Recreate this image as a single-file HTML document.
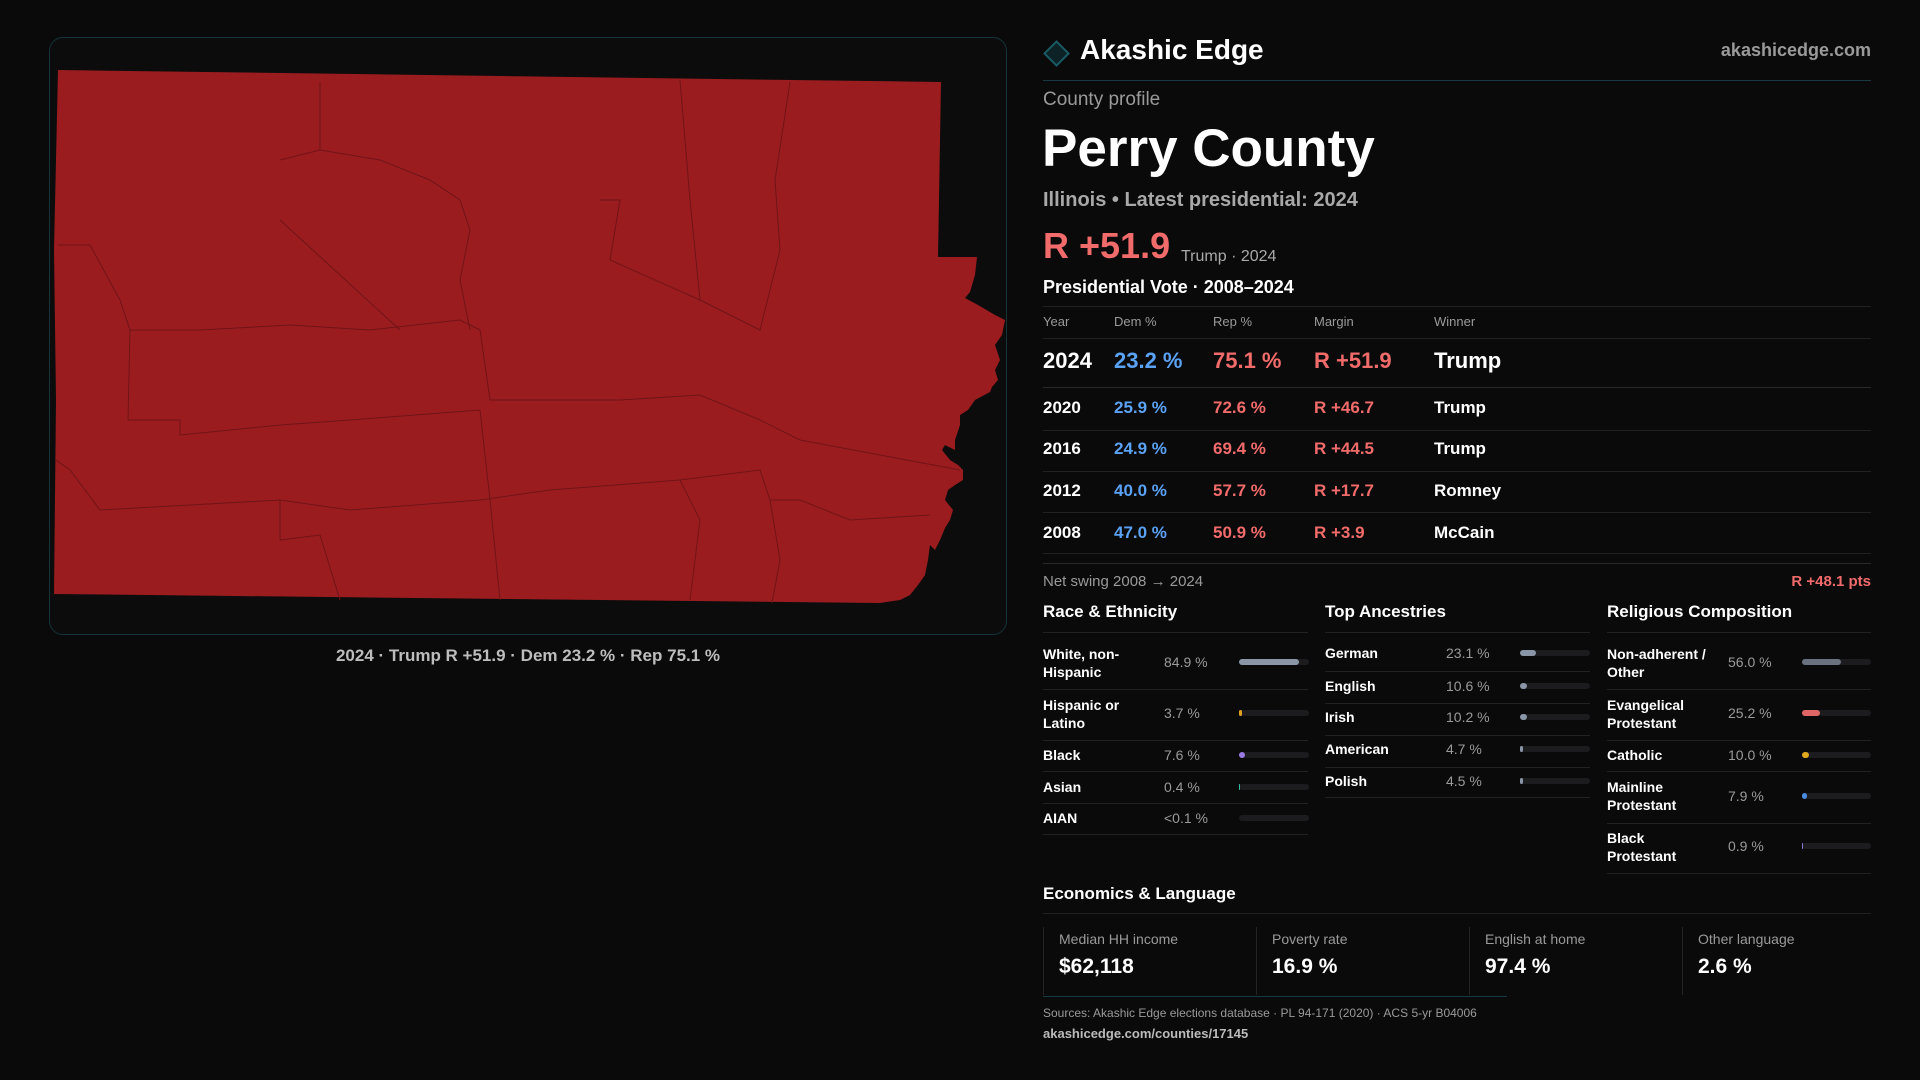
<!DOCTYPE html>
<html><head><meta charset="utf-8"><style>
*{margin:0;padding:0;box-sizing:border-box}
body{width:1920px;height:1080px;background:#0a0a0a;font-family:"Liberation Sans",sans-serif;color:#fff;position:relative;overflow:hidden}
.a{position:absolute;white-space:nowrap}
.g{color:#9a9a9a}
.ln{position:absolute;height:1px;background:#222}
.red{color:#f26b6b}.blue{color:#5aa2f5}
.bar{position:absolute;height:6px;border-radius:3px;background:#1c1c1f}
.bar i{position:absolute;left:0;top:0;height:6px;border-radius:3px}
.card{position:absolute;top:927px;height:68px;border-left:1px solid #242424;padding-left:15px}
.card .l{font-size:14px;color:#9a9a9a;margin-top:4px}
.card .v{font-size:21px;font-weight:bold;margin-top:8px}
</style></head><body>
<div style="position:absolute;left:49px;top:37px;width:958px;height:598px;border:1px solid #16343a;border-radius:14px;background:#0c0c0d"></div>
<svg class="a" style="left:0;top:0" width="1920" height="1080">
<polygon fill="#9b1c1f" points="58,70 941,82 938,257 977,257 975,275 970,292 965,298 978,305 995,315 1005,320 1002,335 995,345 1000,360 995,370 998,380 992,387 990,392 975,400 968,410 960,415 960,425 955,440 955,450 945,445 942,450 950,460 958,465 963,470 963,480 955,485 948,490 945,500 953,510 950,520 945,528 940,540 935,550 930,545 928,560 925,575 918,585 910,595 900,600 880,603 54,594 56,400 54,250"/>
<g fill="none" stroke="#701417" stroke-width="1">
<polyline points="58,245 90,245 120,300 130,330 200,330 290,325 370,330 460,320 480,330 490,400 620,400 700,395 760,420 800,440 960,470"/>
<polyline points="130,330 128,420 180,420 180,435 280,425 350,420 480,410"/>
<polyline points="56,460 70,470 100,510 190,505 280,500 350,510 480,500 550,490 680,480 760,470 770,500 800,500 850,520 930,515"/>
<polyline points="280,160 320,150 380,160 430,180 460,200 470,230 460,280 470,330"/>
<polyline points="280,500 280,540 320,535 340,600"/>
<polyline points="480,410 490,500 500,600"/>
<polyline points="680,480 700,520 690,600"/>
<polyline points="770,500 780,560 772,603"/>
<polyline points="320,82 320,150"/>
<polyline points="680,80 690,200 700,300 760,330 780,250 775,180 790,82"/>
<polyline points="600,200 620,200 610,260 700,300"/>
<polyline points="280,220 400,330"/>
</g>
</svg>
<div class="a" style="left:0;width:1056px;top:646px;text-align:center;font-size:17px;color:#bdbdbd;font-weight:bold">2024 · Trump R +51.9 · Dem 23.2 % · Rep 75.1 %</div>

<div class="a" style="left:1047px;top:44px;width:19px;height:19px;border:2px solid #1a5a63;background:#0d2226;transform:rotate(45deg)"></div>
<div class="a" style="left:1080px;top:34px;font-size:28px;font-weight:bold">Akashic Edge</div>
<div class="a g" style="right:49px;top:40px;font-size:18px;font-weight:bold">akashicedge.com</div>
<div class="ln" style="left:1043px;width:828px;top:80px;background:#173a40"></div>
<div class="a g" style="left:1043px;top:89px;font-size:19px">County profile</div>
<div class="a" style="left:1042px;top:118px;font-size:53px;font-weight:bold">Perry County</div>
<div class="a" style="left:1043px;top:189px;font-size:20px;color:#a8a8a8;font-weight:bold">Illinois • Latest presidential: 2024</div>
<div class="a red" style="left:1043px;top:225px;font-size:36px;font-weight:bold">R +51.9</div>
<div class="a" style="left:1181px;top:248px;font-size:16px;color:#aaa">Trump · 2024</div>
<div class="a" style="left:1043px;top:277px;font-size:18px;font-weight:bold">Presidential Vote · 2008–2024</div>
<div class="ln" style="left:1043px;width:828px;top:306px"></div>
<div class="a g" style="left:1043px;top:314px;font-size:13px">Year</div>
<div class="a g" style="left:1114px;top:314px;font-size:13px">Dem %</div>
<div class="a g" style="left:1213px;top:314px;font-size:13px">Rep %</div>
<div class="a g" style="left:1314px;top:314px;font-size:13px">Margin</div>
<div class="a g" style="left:1434px;top:314px;font-size:13px">Winner</div>
<div class="ln" style="left:1043px;width:828px;top:338px"></div>
<div class="a" style="left:1043px;top:348px;font-size:22px;font-weight:bold">2024</div><div class="a blue" style="left:1114px;top:348px;font-size:22px;font-weight:bold">23.2 %</div><div class="a red" style="left:1213px;top:348px;font-size:22px;font-weight:bold">75.1 %</div><div class="a red" style="left:1314px;top:348px;font-size:22px;font-weight:bold">R +51.9</div><div class="a" style="left:1434px;top:348px;font-size:22px;font-weight:bold">Trump</div>
<div class="ln" style="left:1043px;width:828px;top:387px;background:#2a2a2a"></div>
<div class="a" style="left:1043px;top:398px;font-size:17px;font-weight:bold">2020</div><div class="a blue" style="left:1114px;top:398px;font-size:17px;font-weight:bold">25.9 %</div><div class="a red" style="left:1213px;top:398px;font-size:17px;font-weight:bold">72.6 %</div><div class="a red" style="left:1314px;top:398px;font-size:17px;font-weight:bold">R +46.7</div><div class="a" style="left:1434px;top:398px;font-size:17px;font-weight:bold">Trump</div>
<div class="ln" style="left:1043px;width:828px;top:430px"></div>
<div class="a" style="left:1043px;top:439px;font-size:17px;font-weight:bold">2016</div><div class="a blue" style="left:1114px;top:439px;font-size:17px;font-weight:bold">24.9 %</div><div class="a red" style="left:1213px;top:439px;font-size:17px;font-weight:bold">69.4 %</div><div class="a red" style="left:1314px;top:439px;font-size:17px;font-weight:bold">R +44.5</div><div class="a" style="left:1434px;top:439px;font-size:17px;font-weight:bold">Trump</div>
<div class="ln" style="left:1043px;width:828px;top:471px"></div>
<div class="a" style="left:1043px;top:481px;font-size:17px;font-weight:bold">2012</div><div class="a blue" style="left:1114px;top:481px;font-size:17px;font-weight:bold">40.0 %</div><div class="a red" style="left:1213px;top:481px;font-size:17px;font-weight:bold">57.7 %</div><div class="a red" style="left:1314px;top:481px;font-size:17px;font-weight:bold">R +17.7</div><div class="a" style="left:1434px;top:481px;font-size:17px;font-weight:bold">Romney</div>
<div class="ln" style="left:1043px;width:828px;top:512px"></div>
<div class="a" style="left:1043px;top:523px;font-size:17px;font-weight:bold">2008</div><div class="a blue" style="left:1114px;top:523px;font-size:17px;font-weight:bold">47.0 %</div><div class="a red" style="left:1213px;top:523px;font-size:17px;font-weight:bold">50.9 %</div><div class="a red" style="left:1314px;top:523px;font-size:17px;font-weight:bold">R +3.9</div><div class="a" style="left:1434px;top:523px;font-size:17px;font-weight:bold">McCain</div>
<div class="ln" style="left:1043px;width:828px;top:553px"></div>
<div class="ln" style="left:1043px;width:828px;top:563px;background:#2a2a2a"></div>
<div class="a g" style="left:1043px;top:573px;font-size:15px">Net swing 2008 → 2024</div>
<div class="a red" style="right:49px;top:573px;font-size:15px;font-weight:bold">R +48.1 pts</div>

<div class="a" style="left:1043px;top:602px;font-size:17px;font-weight:bold">Race &amp; Ethnicity</div>
<div class="a" style="left:1325px;top:602px;font-size:17px;font-weight:bold">Top Ancestries</div>
<div class="a" style="left:1607px;top:602px;font-size:17px;font-weight:bold">Religious Composition</div>
<div class="ln" style="left:1043px;width:265px;top:632px"></div>
<div class="ln" style="left:1325px;width:265px;top:632px"></div>
<div class="ln" style="left:1607px;width:264px;top:632px"></div>

<div class="a" style="left:1043px;top:645px;font-size:14px;line-height:18px;font-weight:bold">White, non-<br>Hispanic</div><div class="a g" style="left:1164px;top:654px;font-size:14px">84.9 %</div><div class="bar" style="left:1239px;width:70px;top:659px"><i style="width:60px;background:#8a96a8"></i></div>
<div class="ln" style="left:1043px;width:265px;top:689px"></div>
<div class="a" style="left:1043px;top:696px;font-size:14px;line-height:18px;font-weight:bold">Hispanic or<br>Latino</div><div class="a g" style="left:1164px;top:705px;font-size:14px">3.7 %</div><div class="bar" style="left:1239px;width:70px;top:710px"><i style="width:3px;background:#e0a020"></i></div>
<div class="ln" style="left:1043px;width:265px;top:740px"></div>
<div class="a" style="left:1043px;top:747px;font-size:14px;font-weight:bold">Black</div><div class="a g" style="left:1164px;top:747px;font-size:14px">7.6 %</div><div class="bar" style="left:1239px;width:70px;top:752px"><i style="width:6px;background:#9a7ae0"></i></div>
<div class="ln" style="left:1043px;width:265px;top:771px"></div>
<div class="a" style="left:1043px;top:779px;font-size:14px;font-weight:bold">Asian</div><div class="a g" style="left:1164px;top:779px;font-size:14px">0.4 %</div><div class="bar" style="left:1239px;width:70px;top:784px"><i style="width:1px;background:#30c0a0"></i></div>
<div class="ln" style="left:1043px;width:265px;top:803px"></div>
<div class="a" style="left:1043px;top:810px;font-size:14px;font-weight:bold">AIAN</div><div class="a g" style="left:1164px;top:810px;font-size:14px">&lt;0.1 %</div><div class="bar" style="left:1239px;width:70px;top:815px"></div>
<div class="ln" style="left:1043px;width:265px;top:834px"></div>

<div class="a" style="left:1325px;top:645px;font-size:14px;font-weight:bold">German</div><div class="a g" style="left:1446px;top:645px;font-size:14px">23.1 %</div><div class="bar" style="left:1520px;width:70px;top:650px"><i style="width:16px;background:#8a96a8"></i></div>
<div class="ln" style="left:1325px;width:265px;top:671px"></div>
<div class="a" style="left:1325px;top:678px;font-size:14px;font-weight:bold">English</div><div class="a g" style="left:1446px;top:678px;font-size:14px">10.6 %</div><div class="bar" style="left:1520px;width:70px;top:683px"><i style="width:7px;background:#8a96a8"></i></div>
<div class="ln" style="left:1325px;width:265px;top:703px"></div>
<div class="a" style="left:1325px;top:709px;font-size:14px;font-weight:bold">Irish</div><div class="a g" style="left:1446px;top:709px;font-size:14px">10.2 %</div><div class="bar" style="left:1520px;width:70px;top:714px"><i style="width:7px;background:#8a96a8"></i></div>
<div class="ln" style="left:1325px;width:265px;top:735px"></div>
<div class="a" style="left:1325px;top:741px;font-size:14px;font-weight:bold">American</div><div class="a g" style="left:1446px;top:741px;font-size:14px">4.7 %</div><div class="bar" style="left:1520px;width:70px;top:746px"><i style="width:3px;background:#8a96a8"></i></div>
<div class="ln" style="left:1325px;width:265px;top:767px"></div>
<div class="a" style="left:1325px;top:773px;font-size:14px;font-weight:bold">Polish</div><div class="a g" style="left:1446px;top:773px;font-size:14px">4.5 %</div><div class="bar" style="left:1520px;width:70px;top:778px"><i style="width:3px;background:#8a96a8"></i></div>
<div class="ln" style="left:1325px;width:265px;top:797px"></div>

<div class="a" style="left:1607px;top:645px;font-size:14px;line-height:18px;font-weight:bold">Non-adherent /<br>Other</div><div class="a g" style="left:1728px;top:654px;font-size:14px">56.0 %</div><div class="bar" style="left:1802px;width:69px;top:659px"><i style="width:39px;background:#6a7280"></i></div>
<div class="ln" style="left:1607px;width:264px;top:689px"></div>
<div class="a" style="left:1607px;top:696px;font-size:14px;line-height:18px;font-weight:bold">Evangelical<br>Protestant</div><div class="a g" style="left:1728px;top:705px;font-size:14px">25.2 %</div><div class="bar" style="left:1802px;width:69px;top:710px"><i style="width:18px;background:#e06666"></i></div>
<div class="ln" style="left:1607px;width:264px;top:740px"></div>
<div class="a" style="left:1607px;top:747px;font-size:14px;font-weight:bold">Catholic</div><div class="a g" style="left:1728px;top:747px;font-size:14px">10.0 %</div><div class="bar" style="left:1802px;width:69px;top:752px"><i style="width:7px;background:#e0a820"></i></div>
<div class="ln" style="left:1607px;width:264px;top:771px"></div>
<div class="a" style="left:1607px;top:778px;font-size:14px;line-height:18px;font-weight:bold">Mainline<br>Protestant</div><div class="a g" style="left:1728px;top:788px;font-size:14px">7.9 %</div><div class="bar" style="left:1802px;width:69px;top:793px"><i style="width:5px;background:#4a8ae0"></i></div>
<div class="ln" style="left:1607px;width:264px;top:823px"></div>
<div class="a" style="left:1607px;top:829px;font-size:14px;line-height:18px;font-weight:bold">Black<br>Protestant</div><div class="a g" style="left:1728px;top:838px;font-size:14px">0.9 %</div><div class="bar" style="left:1802px;width:69px;top:843px"><i style="width:1px;background:#8a7ae0"></i></div>
<div class="ln" style="left:1607px;width:264px;top:873px"></div>

<div class="a" style="left:1043px;top:884px;font-size:17px;font-weight:bold">Economics &amp; Language</div>
<div class="ln" style="left:1043px;width:828px;top:913px"></div>
<div class="card" style="left:1043px"><div class="l">Median HH income</div><div class="v">$62,118</div></div>
<div class="card" style="left:1256px"><div class="l">Poverty rate</div><div class="v">16.9 %</div></div>
<div class="card" style="left:1469px"><div class="l">English at home</div><div class="v">97.4 %</div></div>
<div class="card" style="left:1682px"><div class="l">Other language</div><div class="v">2.6 %</div></div>
<div class="ln" style="left:1043px;width:464px;top:996px;background:#163a40"></div>
<div class="a g" style="left:1043px;top:1006px;font-size:12px">Sources: Akashic Edge elections database · PL 94-171 (2020) · ACS 5-yr B04006</div>
<div class="a" style="left:1043px;top:1026px;font-size:13px;color:#bbb;font-weight:bold">akashicedge.com/counties/17145</div>
</body></html>
